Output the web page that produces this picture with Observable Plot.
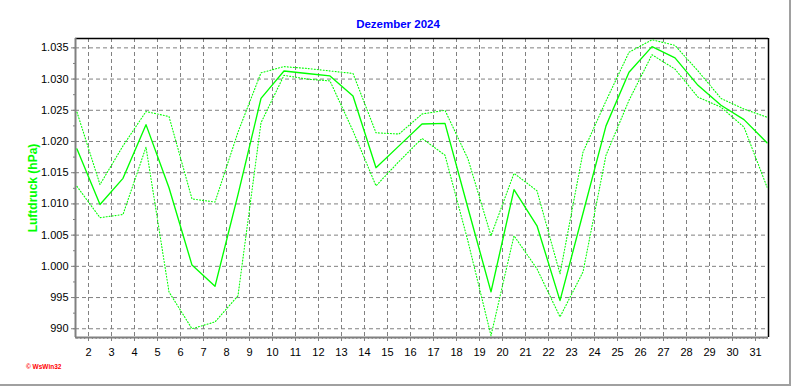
<!DOCTYPE html>
<html>
<head>
<meta charset="utf-8">
<script src="https://cdn.jsdelivr.net/npm/d3@7"></script>
<script src="https://cdn.jsdelivr.net/npm/@observablehq/plot@0.6"></script>
<style>
  body { margin: 0; background: #fff; }
  #wrap { position: relative; width: 792px; height: 387px; overflow: hidden; font-family: "Liberation Sans", Arial, sans-serif; }
  #wrap svg { position: absolute; left: 0; top: 0; }
  #border { position: absolute; left: 0; top: 0; width: 789px; height: 384px; border-right: 2px solid #a0a0a0; border-bottom: 2px solid #a0a0a0; pointer-events: none; }
  #title { position: absolute; top: 18.5px; left: 0; width: 796px; text-align: center; color: #0000ff; font-weight: bold; font-size: 11.5px; line-height: 1; }
  #credit { position: absolute; left: 26px; top: 364px; color: #ff0000; font-weight: bold; font-size: 6.5px; line-height: 1; }
</style>
</head>
<body>
<div id="wrap">
  <div id="title"></div>
  <div id="credit"></div>
  <div id="border"></div>
</div>
<script>
// ---- Data (hPa), one value per day of December 2024 ----
const titleText = "Dezember 2024";
const yLabel = "Luftdruck (hPa)";
const creditText = "© WsWin32";

const days = [1,2,3,4,5,6,7,8,9,10,11,12,13,14,15,16,17,18,19,20,21,22,23,24,25,26,27,28,29,30,31];

const meanP = [1018.8,1009.9,1014.1,1022.7,1012.6,1000.2,996.8,1011.5,1026.9,1031.3,
               1030.9,1030.5,1027.3,1015.8,1019.3,1022.8,1022.9,1009.3,995.9,1012.3,
               1006.5,994.5,1008.5,1022.5,1031.1,1035.2,1033.4,1029.0,1025.8,1023.5,1019.8];

const maxP  = [1024.7,1013.1,1019.3,1024.8,1024.0,1010.8,1010.3,1021.5,1031.0,1032.0,
               1031.7,1031.3,1030.9,1021.4,1021.2,1024.4,1025.0,1017.2,1004.9,1014.9,
               1012.1,998.8,1018.3,1026.5,1034.3,1036.3,1035.4,1031.3,1026.9,1025.2,1023.9];

const minP  = [1012.8,1007.8,1008.3,1019.1,995.9,990.0,991.1,995.3,1023.0,1030.6,
               1030.0,1029.7,1021.7,1012.9,1016.8,1020.5,1017.8,1004.0,988.9,1004.9,
               999.6,991.9,999.1,1017.8,1026.6,1033.9,1031.6,1027.1,1025.5,1022.3,1012.7];

const xTicks = [2,3,4,5,6,7,8,9,10,11,12,13,14,15,16,17,18,19,20,21,22,23,24,25,26,27,28,29,30,31];
const yTicks = [990,995,1000,1005,1010,1015,1020,1025,1030,1035];

// ---- Build ----
const xDomain = [1.435, 31.565];
const yDomain = [988.6, 1036.5];
const rows = days.map((d, i) => ({t: d + 0.5, mean: meanP[i], max: maxP[i], min: minP[i]}));
const minorX = d3.range(Math.ceil(xDomain[0] * 6), Math.floor(xDomain[1] * 6) + 1).map(k => k / 6);
const minorY = d3.range(yTicks[0], yDomain[1], 2.5);
const deFmt = d3.formatLocale({decimal: ",", thousands: ".", grouping: [3], currency: ["", " €"]}).format(",");

const green = "#00ff00";
const gridStyle = {stroke: "#808080", strokeOpacity: 1, strokeDasharray: "4,3"};

const chart = Plot.plot({
  width: 792,
  height: 387,
  marginLeft: 75,
  marginRight: 24,
  marginTop: 38,
  marginBottom: 50,
  style: {fontFamily: "'Liberation Sans', Arial, sans-serif", fontSize: "11px", background: "transparent", color: "black"},
  x: {domain: xDomain},
  y: {domain: yDomain},
  marks: [
    Plot.gridY(yTicks, gridStyle),
    Plot.gridX(xTicks, gridStyle),
    Plot.axisY(minorY, {anchor: "left", tickSize: 2, fill: "none", stroke: "#808080", label: null}),
    Plot.axisY(yTicks, {anchor: "left", tickSize: 4, tickPadding: 3, tickFormat: deFmt, stroke: "#808080", fill: "black", label: null, fontSize: 11}),
    Plot.axisX(minorX, {anchor: "bottom", tickSize: 2, fill: "none", stroke: "#808080", label: null}),
    Plot.axisX(xTicks, {anchor: "bottom", tickSize: 4, tickPadding: 7, stroke: "#808080", fill: "black", label: null, fontSize: 11}),
    Plot.ruleY([yDomain[1]], {stroke: "black", strokeWidth: 1.5}),
    Plot.ruleX([xDomain[1]], {stroke: "black", strokeWidth: 1.5}),
    Plot.ruleX([xDomain[0]], {stroke: "#808080", strokeWidth: 2}),
    Plot.ruleY([yDomain[0]], {stroke: "#808080", strokeWidth: 2}),
    Plot.line(rows, {x: "t", y: "max", stroke: green, strokeWidth: 1.1, strokeDasharray: "1,2"}),
    Plot.line(rows, {x: "t", y: "min", stroke: green, strokeWidth: 1.1, strokeDasharray: "1,2"}),
    Plot.line(rows, {x: "t", y: "mean", stroke: green, strokeWidth: 1.35}),
    Plot.text([yLabel], {frameAnchor: "left", dx: -42, rotate: -90, textAnchor: "middle", lineAnchor: "middle", fill: green, fontWeight: "bold", fontSize: 12})
  ]
});

const wrap = document.getElementById("wrap");
wrap.insertBefore(chart, wrap.firstChild);
document.getElementById("title").textContent = titleText;
document.getElementById("credit").textContent = creditText;
</script>
</body>
</html>
